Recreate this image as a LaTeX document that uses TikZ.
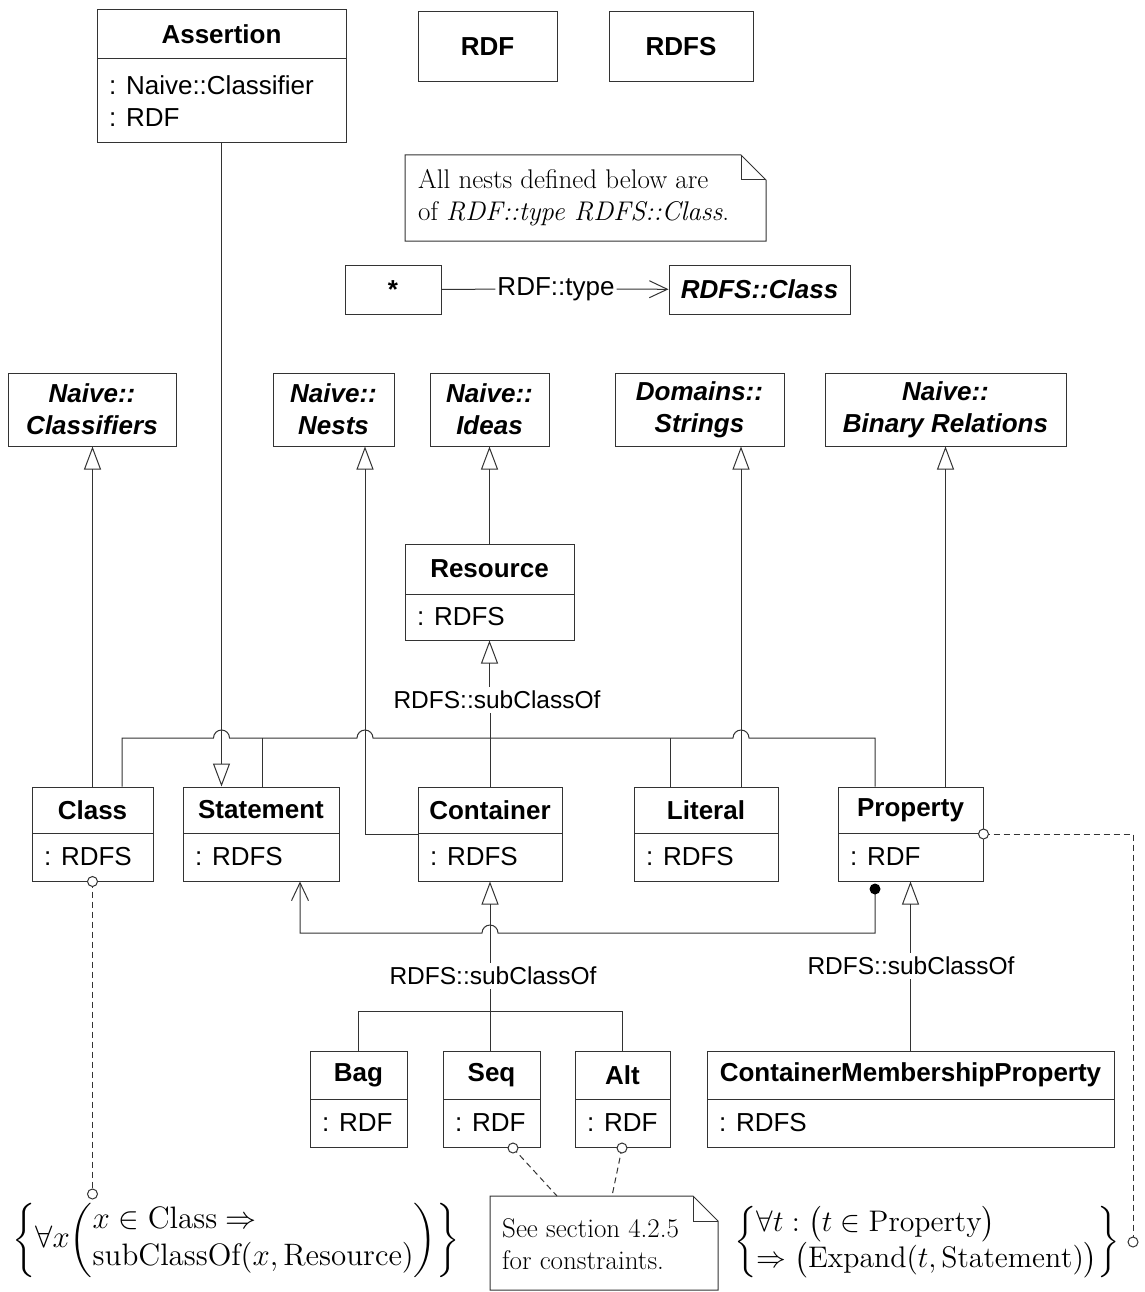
\documentclass[tikz,border=0pt]{standalone}
\usepackage{amsmath}
\usepackage{graphicx}
\usepackage{fontspec}
\setsansfont{Liberation Sans}
\usetikzlibrary{arrows.meta,fit,calc}
\tikzset{
 ln/.style={draw=black!80, line width=1pt},
 umlbox/.style={ln, inner sep=0pt},
 sf/.style={font=\sffamily\fontsize{26}{32}\selectfont},
 hd/.style={font=\sffamily\bfseries\fontsize{26}{32}\selectfont, align=center},
 hdi/.style={font=\sffamily\bfseries\itshape\fontsize{26}{32}\selectfont, align=center},
 gen/.style={ln, -{Triangle[open, length=23pt, width=17pt]}},
 assoc/.style={ln, -{Straight Barb[length=18pt, width=17pt]}},
 dep/.style={ln, dash pattern=on 6pt off 4pt},
 lab/.style={sf, inner sep=3pt},
 sublab/.style={font=\sffamily\fontsize{24.5}{30}\selectfont, inner sep=4pt},
 opencirc/.style={ln, fill=white},
 notef/.style={font=\fontsize{27}{32}\selectfont, align=left, inner sep=0pt},
 mathf/.style={font=\fontsize{12}{14.33}\selectfont, inner sep=0pt},
}
\newcommand{\uclass}[8]{%
  \coordinate (#1-nw) at (#2,#3);
  \coordinate (#1-se) at (#4,#6);
  \node[umlbox, fit=(#1-nw)(#1-se)] (#1) {};
  \draw[ln] (#2,#5) -- (#4,#5);
  \node[hd] (#1-t) at ({(#2+#4)/2},{(#3+#5)/2}) {#7};
  \node[sf, anchor=west, inner sep=0pt, align=left] (#1-a) at ({#2+12},{(#5+#6)/2}) {#8};
}
\newcommand{\plainbox}[7][hdi]{%
  \coordinate (#2-nw) at (#3,#4);
  \coordinate (#2-se) at (#5,#6);
  \node[umlbox, fit=(#2-nw)(#2-se)] (#2) {};
  \node[#1] (#2-t) at (#2.center) {#7};
}
\begin{document}
\begin{tikzpicture}[x=1pt,y=-1pt]
\useasboundingbox (0,0) rectangle (1144,1292);

% top boxes
\uclass{assert}{97}{10}{346}{59}{143}{Assertion}{: Naive::Classifier\\: RDF}
\plainbox[hd]{rdf}{418}{12}{557}{82}{RDF}
\plainbox[hd]{rdfs}{609}{12}{753}{82}{RDFS}

% note 1
\draw[ln] (405,155) -- (741,155) -- (766,180) -- (766,241) -- (405,241) -- cycle;
\draw[ln] (741,155) -- (741,180) -- (766,180);
\node[notef, anchor=west] (note1) at (418,198) {All nests defined below are\\of \textit{RDF::type RDFS::Class}.};

% star -> RDFS::Class
\plainbox[hd]{star}{345}{265}{441}{314}{*}
\plainbox[hdi]{rclass}{669}{265}{850}{314}{RDFS::Class}
\node[lab, inner xsep=2pt] (typelab) at (556,289) {RDF::type};
\draw[ln] (star) -- (typelab);
\draw[assoc] (typelab) -- (rclass);

% superclasses
\plainbox[hdi]{ncls}{8}{373}{176}{446}{Naive::\\Classifiers}
\plainbox[hdi]{nnest}{273}{373}{394}{446}{Naive::\\Nests}
\plainbox[hdi]{nidea}{430}{373}{549}{446}{Naive::\\Ideas}
\plainbox[hdi]{nstr}{615}{373}{784}{446}{Domains::\\Strings}
\plainbox[hdi]{nbin}{825}{373}{1066}{446}{Naive::\\Binary Relations}

% classes
\uclass{res}{405}{544}{574}{594}{640}{Resource}{: RDFS}
\uclass{cls}{32}{787}{153}{833}{881}{Class}{: RDFS}
\uclass{stmt}{183}{787}{339}{833}{881}{Statement}{: RDFS}
\uclass{cont}{418}{787}{562}{833}{881}{Container}{: RDFS}
\uclass{lit}{634}{787}{778}{833}{881}{Literal}{: RDFS}
\uclass{prop}{838}{787}{983}{833}{881}{Property}{: RDF}
\uclass{bag}{310}{1051}{407}{1099}{1147}{Bag}{: RDF}
\uclass{seq}{443}{1051}{540}{1099}{1147}{Seq}{: RDF}
\uclass{alt}{575}{1051}{670}{1099}{1147}{Alt}{: RDF}
\uclass{cmp}{707}{1051}{1114}{1099}{1147}{ContainerMembershipProperty}{: RDFS}

% labels
\node[sublab] (lab1) at (497,700) {RDFS::subClassOf};
\node[sublab] (lab2) at (493,976) {RDFS::subClassOf};
\node[sublab] (lab3) at (911,966) {RDFS::subClassOf};

% coordinates
\coordinate (d1) at (122,738);
\coordinate (d2) at (262,738);
\coordinate (d4) at (670,738);
\coordinate (d5) at (875,738);
\coordinate (nestjoin) at (365,834);
\coordinate (litx) at (741,787);
\coordinate (e1) at (358,1011);

% generalizations to superclasses
\draw[gen] (assert.south) -- (assert.south |- stmt.north);
\draw[gen] (cls.north) -- (cls.north |- ncls.south);
\draw[gen] (cont.west) -- (nestjoin) -- (nestjoin |- nnest.south);
\draw[gen] (res.north) -- (res.north |- nidea.south);
\draw[gen] (litx) -- (litx |- nstr.south);
\draw[gen] (prop.north -| nbin.south) -- (nbin.south);

% bus to Resource
\draw[ln] (cls.north -| d1) -- (d1)
  -- ($(d1 -| assert.south)+(-8,0)$) arc[start angle=180,end angle=0,radius=8pt]
  -- ($(d1 -| nestjoin)+(-8,0)$) arc[start angle=180,end angle=0,radius=8pt]
  -- ($(d1 -| litx)+(-8,0)$) arc[start angle=180,end angle=0,radius=8pt]
  -- (d5) -- (d5 |- prop.north);
\draw[ln] (d2) -- (d2 |- stmt.north);
\draw[ln] (d4) -- (d4 |- lit.north);
\draw[ln] (cont.north) -- (cont.north |- lab1.south);
\draw[gen] (lab1.north -| res.south) -- (res.south);

% Container subclasses
\draw[gen] (lab2.north -| cont.south) -- (cont.south);
\draw[ln] (lab2.south -| cont.south) -- (cont.south |- seq.north);
\draw[ln] (bag.north) -- (bag.north |- e1) -- (alt.north |- e1) -- (alt.north);

% CMP -> Property
\draw[ln] (cmp.north) -- (cmp.north |- lab3.south);
\draw[gen] (lab3.north -| prop.south) -- (prop.south);

% Property -> Statement association
\coordinate (pdot) at (875,889);
\coordinate (acorner) at (875,933);
\coordinate (sarr) at (300,933);
\draw[assoc] (pdot) -- (acorner)
  -- ($(acorner -| cont.south)+(8,0)$) arc[start angle=0,end angle=180,radius=8pt]
  -- (sarr) -- (sarr |- stmt.south);
\fill[black] (pdot) circle[radius=5.5pt];

% note 2
\draw[ln] (490,1290) -- (490,1196) -- (693,1196) -- (718,1221) -- (718,1290) -- cycle;
\draw[ln] (693,1196) -- (693,1221) -- (718,1221);
\node[notef, anchor=west] (note2) at (502,1244) {See section 4.2.5\\for constraints.};

% formulas
\node[mathf] (f1) at (236,1240) {\scalebox{2.583}{$\left\{\forall x\!\left(\begin{array}{@{}l@{}}x\in\mathrm{Class}\Rightarrow\\\mathrm{subClassOf}(x,\mathrm{Resource})\end{array}\right)\right\}$}};
\node[mathf] (f2) at (927,1242) {\scalebox{2.48}{$\left\{\begin{array}{@{}l@{}}\forall t:\bigl(t\in\mathrm{Property}\bigr)\\\Rightarrow\bigl(\mathrm{Expand}(t,\mathrm{Statement})\bigr)\end{array}\right\}$}};

% dependencies
\coordinate (clsend) at (92.5,1194);
\coordinate (seqc) at (513,1148);
\coordinate (seqn) at (557,1196);
\coordinate (altc) at (622,1148);
\coordinate (altn) at (612,1196);
\coordinate (pr1) at (1133,834);
\coordinate (pr2) at (1133,1242);
\draw[dep] (cls.south) -- (clsend);
\draw[dep] (seqc) -- (seqn);
\draw[dep] (altc) -- (altn);
\draw[dep] (prop.east) -- (pr1) -- (pr2);
\draw[opencirc] (cls.south) circle[radius=5pt];
\draw[opencirc] (clsend) circle[radius=5pt];
\draw[opencirc] (seqc) circle[radius=5pt];
\draw[opencirc] (altc) circle[radius=5pt];
\draw[opencirc] (prop.east) circle[radius=5pt];
\draw[opencirc] (pr2) circle[radius=5pt];
\end{tikzpicture}
\end{document}
